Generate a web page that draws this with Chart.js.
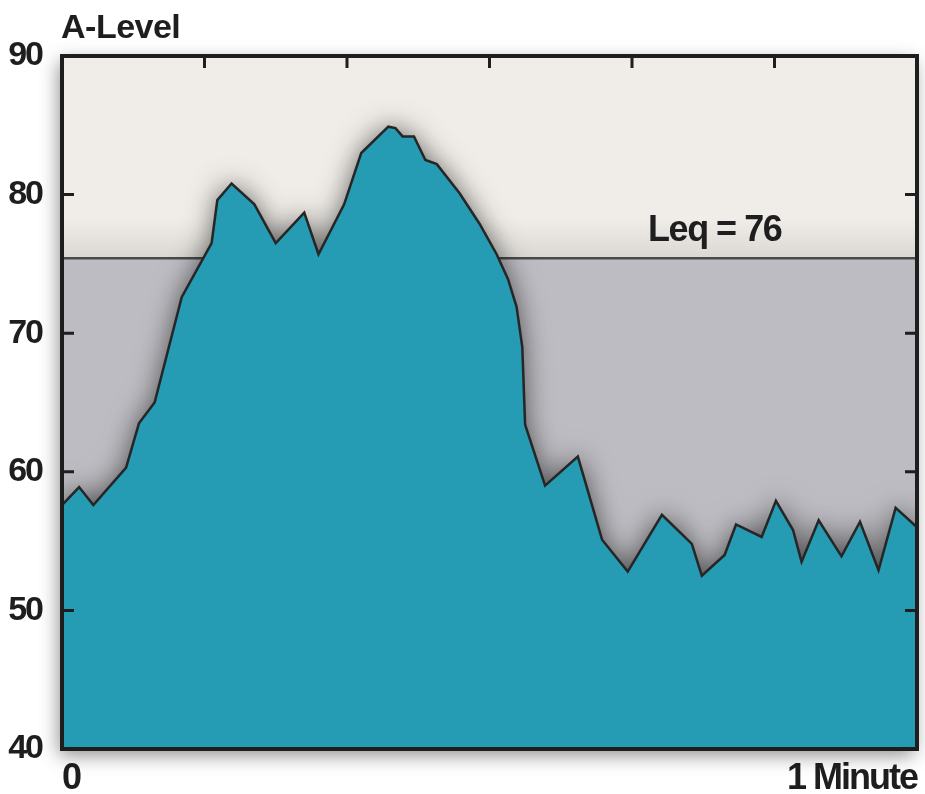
<!DOCTYPE html>
<html lang="en">
<head>
    <meta charset="UTF-8">
    <title>A-Level over one minute</title>
    <script src="https://cdn.jsdelivr.net/npm/chart.js"></script>
    <style>
        body { margin: 0; background: #fff; }
        canvas { display: block; }
    </style>
</head>
<body>
    <canvas id="levelChart" width="925" height="794"></canvas>

    <script>
        // time in seconds (0 .. 60) and the sound level
        var seconds = [0, 1.2, 2.2, 4.5, 5.4, 6.5, 8.4, 10.5, 10.9, 11.9, 13.5, 15.0, 17.0, 18.0,
            19.8, 21.0, 22.9, 23.4, 23.9, 24.7, 25.5, 26.3, 27.9, 29.3, 30.5, 31.3, 31.9, 32.3,
            32.5, 33.9, 36.2, 37.9, 39.7, 42.1, 44.2, 44.9, 46.5, 47.3, 49.1, 50.1, 51.3, 51.9,
            53.1, 54.7, 56.0, 57.3, 58.5, 60];
        var aLevel = [57.6, 58.9, 57.6, 60.3, 63.5, 65.0, 72.6, 76.5, 79.6, 80.8, 79.3, 76.5, 78.7, 75.7,
            79.3, 83.0, 84.9, 84.8, 84.2, 84.2, 82.5, 82.2, 80.1, 77.9, 75.7, 73.9, 71.9, 69.0,
            63.4, 59.0, 61.1, 55.1, 52.8, 56.9, 54.8, 52.5, 54.0, 56.2, 55.3, 57.9, 55.8, 53.5,
            56.5, 53.9, 56.4, 52.9, 57.4, 56.0];
        var leq = 75.4;
        var leqLabel = 'Leq = 76';
        var yTicks = [40, 50, 60, 70, 80, 90];

        var FONT = '"Liberation Sans", Arial, sans-serif';
        var teal = '#259bb4';
        var lightBand = '#f0ede8';
        var grayBand = '#bdbcc2';
        var ink = '#1e1e1e';

        var decor = {
            id: 'decor',
            beforeDraw: function (chart) {
                // tighter letters, the original uses a condensed face
                chart.ctx.letterSpacing = '-2px';
            },
            beforeDatasetsDraw: function (chart) {
                var ctx = chart.ctx, a = chart.chartArea, y = chart.scales.y;
                var leqY = y.getPixelForValue(leq);

                // frame drop shadow
                ctx.save();
                ctx.shadowColor = 'rgba(0,0,0,0.45)';
                ctx.shadowBlur = 18;
                ctx.shadowOffsetX = -3;
                ctx.shadowOffsetY = 6;
                ctx.fillStyle = lightBand;
                ctx.fillRect(a.left, a.top, a.width, a.height);
                ctx.restore();

                ctx.save();
                ctx.fillStyle = lightBand;
                ctx.fillRect(a.left, a.top, a.width, leqY - a.top);
                var g = ctx.createLinearGradient(0, leqY - 40, 0, leqY);
                g.addColorStop(0, 'rgba(0,0,0,0)');
                g.addColorStop(1, 'rgba(0,0,0,0.09)');
                ctx.fillStyle = g;
                ctx.fillRect(a.left, leqY - 40, a.width, 40);
                ctx.fillStyle = grayBand;
                ctx.fillRect(a.left, leqY, a.width, a.bottom - leqY);

                // Leq line
                ctx.strokeStyle = '#4a4a4a';
                ctx.lineWidth = 2.5;
                ctx.beginPath();
                ctx.moveTo(a.left, leqY);
                ctx.lineTo(a.right, leqY);
                ctx.stroke();

                // soft shadow around the level area
                var pts = chart.getDatasetMeta(0).data;
                ctx.beginPath();
                ctx.rect(a.left, a.top, a.width, a.height);
                ctx.clip();
                ctx.beginPath();
                ctx.moveTo(pts[0].x, a.bottom);
                pts.forEach(function (p) { ctx.lineTo(p.x, p.y); });
                ctx.lineTo(pts[pts.length - 1].x, a.bottom);
                ctx.closePath();
                ctx.shadowColor = 'rgba(0,0,0,0.6)';
                ctx.shadowBlur = 28;
                ctx.fillStyle = teal;
                ctx.fill();
                ctx.restore();
            },
            afterDatasetsDraw: function (chart) {
                var ctx = chart.ctx, a = chart.chartArea;
                var x = chart.scales.x, y = chart.scales.y;

                ctx.save();
                ctx.strokeStyle = ink;
                ctx.lineWidth = 4;
                ctx.strokeRect(a.left, a.top, a.width, a.height);

                // inward tick marks
                ctx.lineWidth = 3;
                ctx.beginPath();
                x.ticks.forEach(function (t) {
                    if (t.value <= x.min || t.value >= x.max) return;
                    var px = x.getPixelForValue(t.value);
                    ctx.moveTo(px, a.top);
                    ctx.lineTo(px, a.top + 12);
                });
                y.ticks.forEach(function (t) {
                    if (t.value <= y.min || t.value >= y.max) return;
                    var py = y.getPixelForValue(t.value);
                    ctx.moveTo(a.left, py);
                    ctx.lineTo(a.left + 12, py);
                    ctx.moveTo(a.right, py);
                    ctx.lineTo(a.right - 12, py);
                });
                ctx.stroke();

                ctx.fillStyle = ink;
                ctx.letterSpacing = '-1.5px';
                ctx.font = 'bold 36px ' + FONT;
                ctx.textAlign = 'center';
                ctx.textBaseline = 'alphabetic';
                ctx.fillText(leqLabel, x.getPixelForValue(45.8), y.getPixelForValue(leq) - 17);

                ctx.letterSpacing = '-0.5px';
                ctx.font = 'bold 34px ' + FONT;
                ctx.textAlign = 'left';
                ctx.fillText('A-Level', a.left - 1, 38);
                ctx.restore();
            },
            afterDraw: function (chart) {
                chart.ctx.letterSpacing = '0px';
            }
        };

        var points = seconds.map(function (s, i) { return { x: s, y: aLevel[i] }; });

        new Chart(document.getElementById('levelChart').getContext('2d'), {
            type: 'line',
            data: {
                datasets: [{
                    label: 'A-Level',
                    data: points,
                    fill: 'start',
                    backgroundColor: teal,
                    borderColor: '#262626',
                    borderWidth: 2.5,
                    pointRadius: 0,
                    tension: 0
                }]
            },
            options: {
                responsive: false,
                animation: false,
                layout: { padding: { top: 56, right: 8, left: 0, bottom: 0 } },
                plugins: { legend: { display: false }, tooltip: { enabled: false } },
                scales: {
                    x: {
                        type: 'linear',
                        min: 0,
                        max: 60,
                        grid: { display: false },
                        border: { display: false },
                        ticks: {
                            stepSize: 10,
                            autoSkip: false,
                            maxRotation: 0,
                            align: 'inner',
                            padding: 0,
                            color: ink,
                            font: { family: FONT, size: 36, weight: 'bold' },
                            callback: function (v) {
                                if (v === 0) return '0';
                                if (v === 60) return '1 Minute';
                                return '';
                            }
                        },
                        afterFit: function (s) { s.height = 45; }
                    },
                    y: {
                        min: 40,
                        max: 90,
                        grid: { display: false },
                        border: { display: false },
                        afterBuildTicks: function (s) {
                            s.ticks = yTicks.map(function (v) { return { value: v }; });
                        },
                        ticks: {
                            padding: 12,
                            color: ink,
                            font: { family: FONT, size: 34, weight: 'bold' }
                        },
                        afterFit: function (s) { s.width = 62; }
                    }
                }
            },
            plugins: [decor]
        });
    </script>
</body>
</html>
